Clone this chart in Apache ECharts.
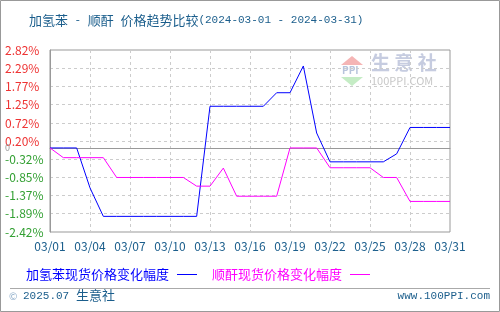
<!DOCTYPE html>
<html>
<head>
<meta charset="utf-8">
<script src="https://cdn.jsdelivr.net/npm/echarts@6/dist/echarts.min.js"></script>
<style>html,body{margin:0;padding:0;background:#fff;}#c{width:500px;height:312px;}</style>
</head>
<body>
<div id="c"></div>
<script>
var dates = ['03/01','03/02','03/03','03/04','03/05','03/06','03/07','03/08','03/09','03/10','03/11','03/12','03/13','03/14','03/15','03/16','03/17','03/18','03/19','03/20','03/21','03/22','03/23','03/24','03/25','03/26','03/27','03/28','03/29','03/30','03/31'];
var benzeneName = '加氢苯现货价格变化幅度';
var benzene = [0,0,0,-1.15,-1.97,-1.97,-1.97,-1.97,-1.97,-1.97,-1.97,-1.97,1.2,1.2,1.2,1.2,1.2,1.59,1.59,2.36,0.43,-0.4,-0.4,-0.4,-0.4,-0.4,-0.17,0.59,0.59,0.59,0.59];
var maleicName = '顺酐现货价格变化幅度';
var maleic = [0,-0.28,-0.28,-0.28,-0.28,-0.85,-0.85,-0.85,-0.85,-0.85,-0.85,-1.1,-1.1,-0.58,-1.39,-1.39,-1.39,-1.39,0,0,0,-0.57,-0.57,-0.57,-0.57,-0.85,-0.85,-1.54,-1.54,-1.54,-1.54];
var yTicks = [-2.42,-1.89,-1.37,-0.85,-0.32,0.20,0.72,1.25,1.77,2.29,2.82];
var yMin = -2.42, yMax = 2.82;
var titleParts = ['加氢苯', ' - ', '顺酐', ' ', '价格趋势比较', '(2024-03-01 - 2024-03-31)'];

var font = '"Noto Sans CJK SC", "DejaVu Sans", sans-serif';
var mono = '"Liberation Mono", "DejaVu Sans Mono", monospace';
var titleRich = titleParts.map(function (p, i) { return '{' + (i % 2 === 0 && i < 5 ? 'c' : 'm') + '|' + p + '}'; }).join('');

var chart = echarts.init(document.getElementById('c'), null, {renderer:'canvas'});
chart.setOption({
  animation: false,
  color: ['#0000ff', '#ff00ff'],
  textStyle: {fontFamily: font},
  title: {
    text: titleRich, left: 24, top: 9,
    textStyle: {
      fontSize: 13, fontWeight: 'normal', color: '#1b5e8c', fontFamily: font,
      rich: {
        c: {fontSize: 13, color: '#1b5e8c', fontFamily: font},
        m: {fontSize: 11, color: '#1b5e8c', fontFamily: mono}
      }
    }
  },
  legend: {
    left: 21, top: 263, align: 'right', icon: 'rect', itemWidth: 20, itemHeight: 1,
    itemGap: 15, selectedMode: false,
    textStyle: {fontSize: 13, fontFamily: font, padding: [0, 3, 0, 0]},
    data: [
      {name: benzeneName, textStyle: {color: '#0000ff'}},
      {name: maleicName, textStyle: {color: '#ff00ff'}}
    ]
  },
  grid: {left: 50, right: 50, top: 50, bottom: 80, show: true, borderColor: '#999', borderWidth: 1, backgroundColor: 'transparent'},
  xAxis: {
    type: 'category', data: dates, boundaryGap: false,
    axisLine: {show: true, lineStyle: {color: '#999'}},
    axisTick: {show: false},
    axisLabel: {interval: 2, color: '#1b5e8c', fontSize: 12, margin: 8, fontFamily: font},
    splitLine: {show: true, interval: 2, lineStyle: {color: '#ccc', type: [3, 3]}}
  },
  yAxis: {
    type: 'value', min: yMin, max: yMax,
    axisLine: {show: true, lineStyle: {color: '#999'}},
    axisTick: {show: false, customValues: yTicks},
    splitLine: {show: true, lineStyle: {color: '#ccc', type: [3, 3]}},
    axisLabel: {
      customValues: yTicks, align: 'left', margin: 45, fontSize: 12, fontFamily: font,
      formatter: function (v) {
        var s = v.toFixed(2) + '%';
        return v > 0 ? '{p|' + s + '}' : '{n|' + s + '}';
      },
      rich: {
        p: {color: '#ee3333', fontSize: 12, fontFamily: font},
        n: {color: '#33a033', fontSize: 12, fontFamily: font}
      }
    }
  },
  series: [
    {
      name: benzeneName, type: 'line', data: benzene, showSymbol: false, symbol: 'none',
      lineStyle: {width: 1, color: '#0000ff'}, z: 3,
      markLine: {
        silent: true, symbol: 'none', z: 1,
        label: {show: false},
        lineStyle: {color: '#999', type: 'solid', width: 1},
        data: [{yAxis: 0}]
      }
    },
    {
      name: maleicName, type: 'line', data: maleic, showSymbol: false, symbol: 'none',
      lineStyle: {width: 1, color: '#ff00ff'}, z: 3
    }
  ],
  graphic: [
    {type: 'rect', shape: {x: 0.5, y: 0.5, width: 499, height: 311}, style: {fill: 'none', stroke: '#999', lineWidth: 1}, z: 100, silent: true},
    {type: 'text', left: 5, top: 143, style: {text: '0', fill: '#999', font: '9px ' + font}, z: 50, silent: true},
    {type: 'line', shape: {x1: 10, y1: 288.5, x2: 490, y2: 288.5}, style: {stroke: '#aaa', lineWidth: 1}, silent: true},
    {type: 'text', left: 9, top: 291, style: {text: '©', fill: '#8aaac8', font: '10px ' + font}, silent: true},
    {type: 'text', left: 23, top: 291, style: {text: '2025.07', fill: '#1b5e8c', font: '11px ' + mono}, silent: true},
    {type: 'text', left: 76, top: 289, style: {text: '生意社', fill: '#1b5e8c', font: '13px ' + font}, silent: true},
    {type: 'text', right: 10, top: 291, style: {text: 'www.100PPI.com', fill: '#1b5e8c', font: '11px ' + mono}, silent: true},
    {type: 'polygon', shape: {points: [[352, 56], [341, 65], [363, 65]]}, style: {fill: '#f5b5b5'}, z: -1, silent: true},
    {type: 'polygon', shape: {points: [[341, 77], [363, 77], [352, 86]]}, style: {fill: '#c5ecc5'}, z: -1, silent: true},
    {type: 'text', left: 342, top: 65, style: {text: 'PPI', fill: '#b8c4dc', font: 'bold 10px ' + font}, z: -1, silent: true},
    {type: 'text', left: 371, top: 53, style: {text: '生 意 社', fill: '#c6cce0', font: 'bold 19px ' + font}, z: -1, silent: true},
    {type: 'text', left: 371, top: 75, style: {text: '100PPI.COM', fill: '#c8c8c8', font: '11px ' + font}, z: -1, silent: true}
  ]
});
</script>
</body>
</html>
